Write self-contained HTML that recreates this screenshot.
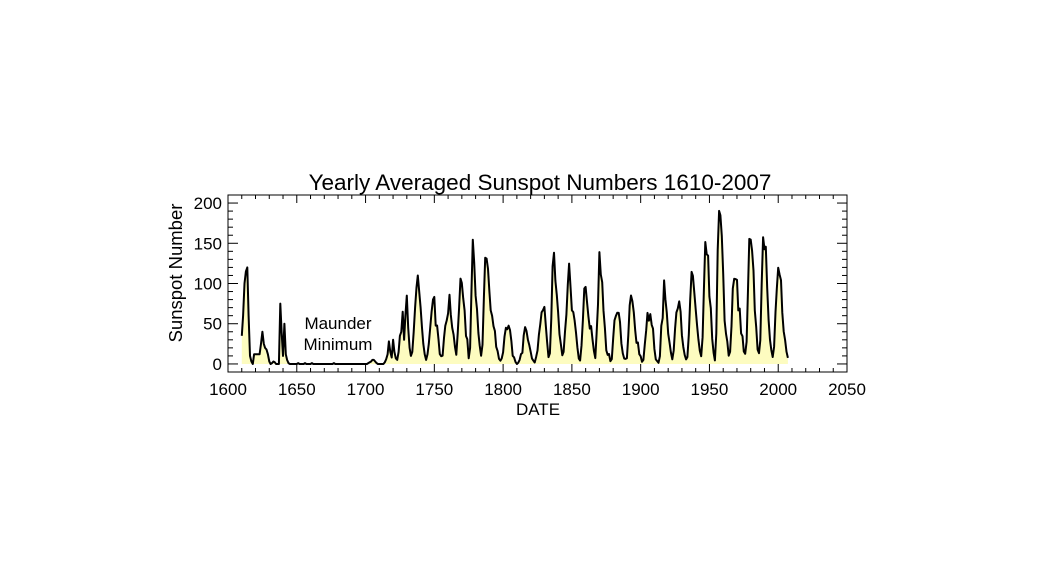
<!DOCTYPE html>
<html><head><meta charset="utf-8"><style>
html,body{margin:0;padding:0;background:#fff;}
svg{display:block;font-family:"Liberation Sans",Arial,sans-serif;}
</style></head><body>
<svg id="chart" width="1040" height="585" viewBox="0 0 1040 585">
<text x="540" y="190" font-size="22.5" text-anchor="middle">Yearly Averaged Sunspot Numbers 1610-2007</text>
<g id="plot"></g>
<g id="axes"></g>
<text x="538" y="415" font-size="17" text-anchor="middle">DATE</text>
<text transform="translate(182,273) rotate(-90)" font-size="18.5" text-anchor="middle">Sunspot Number</text>
<text x="338" y="329" font-size="17" text-anchor="middle">Maunder</text>
<text x="338" y="350" font-size="17" text-anchor="middle">Minimum</text>
</svg>
<script>
const startYear = 1610;
const sunspots = [
35,60,100,115,120,60,10,3,0,12, 12,12,12,12,25,40,25,20,18,12, 3,0,1,3,2,0,0,0,75,40, 10,50,12,5,1,0,0,0,0,0,
0,1,0,0,0,0,1,0,0,0, 0,1,0,0,0,0,0,0,0,0, 0,0,0,0,0,0,0,1,0,0, 0,0,0,0,0,0,0,0,0,0, 0,0,0,0,0,0,0,0,0,0,
0,0,1,2,3,5,5,3,1,0, 0,0,0,0,2,6,12,28,15,8, 30,15,7,5,15,35,40,65,30,60, 85,45,20,10,15,40,70,95,110,90, 70,45,25,12,5,12,25,45,65,80,
83.4,47.7,47.8,30.7,12.2,9.6,10.2,32.4,47.6,54.0, 62.9,85.9,61.2,45.1,36.4,20.9,11.4,37.8,69.8,106.1,
100.8,81.6,66.5,34.8,30.6,7.0,19.8,92.5,154.4,125.9, 84.8,68.1,38.5,22.8,10.2,24.1,82.9,132.0,130.9,118.1,
89.9,66.6,60.0,46.9,41.0,21.3,16.0,6.4,4.1,6.8, 14.5,34.0,45.0,43.1,47.5,42.2,28.1,10.1,8.1,2.5,
0.0,1.4,5.0,12.2,13.9,35.4,45.8,41.0,30.1,23.9, 15.6,6.6,4.0,1.8,8.5,16.6,36.3,49.6,64.2,67.0,
70.9,47.8,27.5,8.5,13.2,56.9,121.5,138.3,103.2,85.7, 64.6,36.7,24.2,10.7,15.0,40.1,61.5,98.5,124.7,96.3,
66.6,64.5,54.1,39.0,20.6,6.7,4.3,22.7,54.8,93.8, 95.8,77.2,59.1,44.0,47.0,30.5,16.3,7.3,37.6,74.0,
139.0,111.2,101.6,66.2,44.7,17.0,11.3,12.4,3.4,6.0, 32.3,54.3,59.7,63.7,63.5,52.2,25.4,13.1,6.8,6.3,
7.1,35.6,73.0,85.1,78.0,64.0,41.8,26.2,26.7,12.1, 9.5,2.7,5.0,24.4,42.0,63.5,53.8,62.0,48.5,43.9,
18.6,5.7,3.6,1.4,9.6,47.4,57.1,103.9,80.6,63.6, 37.6,26.1,14.2,5.8,16.7,44.3,63.9,69.0,77.8,64.9,
35.7,21.2,11.1,5.7,8.7,36.1,79.7,114.4,109.6,88.8, 67.8,47.5,30.6,16.3,9.6,33.2,92.6,151.6,136.3,134.7,
83.9,69.4,31.5,13.9,4.4,38.0,141.7,190.2,184.8,159.0, 112.3,53.9,37.6,27.9,10.2,15.1,47.0,93.8,105.9,105.5,
104.5,66.6,68.9,38.0,34.5,15.5,12.6,27.5,92.5,155.4, 154.6,140.5,115.9,66.6,45.9,17.9,13.4,29.4,100.2,157.6,
142.6,145.7,94.3,54.6,29.9,17.5,8.6,21.5,64.3,93.3, 119.6,111.0,104.0,63.7,40.4,29.8,15.2,7.5
];
const xTicks = [1600,1650,1700,1750,1800,1850,1900,1950,2000,2050];
const yTicks = [0,50,100,150,200];

const NS="http://www.w3.org/2000/svg";
const L=228,R=847,T=195,B=372;
const xMin=1600,xMax=2050,yMin=-10,yMax=210;
const sx=v=>L+(v-xMin)/(xMax-xMin)*(R-L);
const sy=v=>B-(v-yMin)/(yMax-yMin)*(B-T);
function el(tag,attrs,parent){const e=document.createElementNS(NS,tag);for(const k in attrs)e.setAttribute(k,attrs[k]);parent.appendChild(e);return e;}
const plot=document.getElementById('plot'),axes=document.getElementById('axes');

let line='',area='M'+sx(startYear).toFixed(1)+','+sy(0).toFixed(1);
sunspots.forEach((v,i)=>{const x=sx(startYear+i).toFixed(1),y=sy(v).toFixed(1);line+=(i?'L':'M')+x+','+y;area+='L'+x+','+y;});
area+='L'+sx(startYear+sunspots.length-1).toFixed(1)+','+sy(0).toFixed(1)+'Z';
const fa=el('path',{d:area,fill:'#fdfcc0',stroke:'none'},plot);


const ln=el('path',{d:line,fill:'none',stroke:'#000','stroke-width':2,'stroke-linejoin':'round'},plot);



const fr=el('rect',{x:L,y:T,width:R-L,height:B-T,fill:'none',stroke:'#000','stroke-width':1},axes);


for(let yr=xMin;yr<=xMax;yr+=10){const major=xTicks.includes(yr);const h=major?8:4;
 el('line',{x1:sx(yr),x2:sx(yr),y1:B,y2:B-h,stroke:'#000'},axes);
 el('line',{x1:sx(yr),x2:sx(yr),y1:T,y2:T+h,stroke:'#000'},axes);}
xTicks.forEach(t=>{const tx=el('text',{x:sx(t),y:B+23,'font-size':17,'text-anchor':'middle'},axes);tx.textContent=t;
 
 });
for(let v=0;v<=200;v+=10){const major=yTicks.includes(v);const w=major?10:5;
 el('line',{x1:L,x2:L+w,y1:sy(v),y2:sy(v),stroke:'#000'},axes);
 el('line',{x1:R,x2:R-w,y1:sy(v),y2:sy(v),stroke:'#000'},axes);}
yTicks.forEach(t=>{const tx=el('text',{x:L-6,y:sy(t)+6,'font-size':17,'text-anchor':'end'},axes);tx.textContent=t;
 
 });
</script>
</body></html>
